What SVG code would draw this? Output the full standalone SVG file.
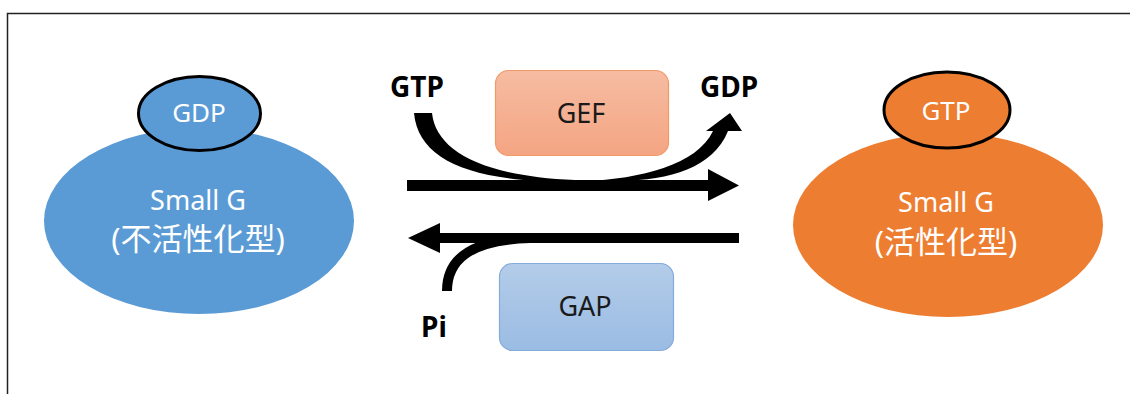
<svg xmlns="http://www.w3.org/2000/svg" width="1130" height="394" viewBox="0 0 1130 394">
<defs>
<linearGradient id="gefG" x1="0" y1="0" x2="0" y2="1"><stop offset="0" stop-color="#f6bca2"/><stop offset="1" stop-color="#f4a582"/></linearGradient>
<linearGradient id="gapG" x1="0" y1="0" x2="0" y2="1"><stop offset="0" stop-color="#b3cce9"/><stop offset="1" stop-color="#9bbce3"/></linearGradient>
<style>
.w{fill:#ffffff;font-family:"Noto Sans","Noto Sans CJK JP",sans-serif;text-anchor:middle}
.d{fill:#1a1a1a;font-family:"Noto Sans",sans-serif;font-size:27px;text-anchor:middle}
.b{fill:#000000;font-family:"Noto Sans",sans-serif;font-weight:bold;font-size:28px;text-anchor:middle}
.cap{stroke:#000;stroke-width:3}
</style>
</defs>
<rect width="1130" height="394" fill="#fff"/>
<path d="M7.5,394 V13.5 H1130" fill="none" stroke="#222" stroke-width="1.5"/>

<g id="inactive">
<ellipse cx="199" cy="221" rx="155" ry="93" fill="#5b9bd5"/>
<ellipse cx="199.5" cy="113.5" rx="61" ry="37" fill="#5b9bd5" class="cap"/>
<text class="w" x="199" y="122" font-size="26">GDP</text>
<text class="w" x="198" y="210" font-size="27">Small G</text>
<text class="w" x="198" y="250" font-size="31">(不活性化型)</text>
</g>

<g id="active">
<ellipse cx="948" cy="225" rx="155" ry="92" fill="#ed7d31"/>
<ellipse cx="947" cy="110" rx="63" ry="38" fill="#ed7d31" class="cap"/>
<text class="w" x="946" y="120" font-size="26">GTP</text>
<text class="w" x="946" y="212" font-size="27">Small G</text>
<text class="w" x="946" y="253" font-size="31">(活性化型)</text>
</g>

<g id="gef">
<rect x="495.5" y="70.5" width="173" height="85" rx="13" fill="url(#gefG)" stroke="#f29a67" stroke-width="1.2"/>
<text class="d" x="581" y="123">GEF</text>
</g>

<g id="gap">
<rect x="499.5" y="263.5" width="174" height="87" rx="13" fill="url(#gapG)" stroke="#84abdb" stroke-width="1.2"/>
<text class="d" x="585" y="316">GAP</text>
</g>

<g id="labels">
<text class="b" x="417" y="97">GTP</text>
<text class="b" x="729" y="97">GDP</text>
<text class="b" x="434" y="337">Pi</text>
</g>

<g id="connectors" fill="#000">
<path d="M407,180 H708 V169 L739,185.5 L708,201 V191 H407 Z"/>
<path d="M414,113 H432 C436,150 480,176 575,180 L575,181 L540,181 C460,177 418,155 414,113 Z"/>
<path d="M585,181 C640,179 697,165 713,131 L706,131 L730,113 L742,131 L728,131 C713,168 670,180 620,181 Z"/>
<path d="M739,233 H440 V223 L408,238 L440,253 V243 H739 Z"/>
<path d="M447,291 C447,262 466,240 530,238" fill="none" stroke="#000" stroke-width="10"/>
</g>
</svg>
